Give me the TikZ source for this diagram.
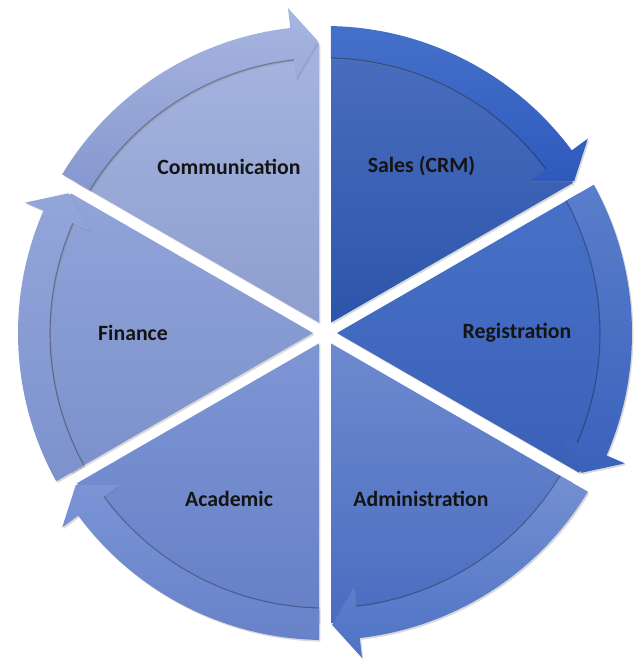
\documentclass[tikz,border=0pt]{standalone}
\usepackage{fontspec}
\setmainfont{Carlito}
\usetikzlibrary{shadows}
\definecolor{salestop}{HTML}{4A6EBF}
\definecolor{salesbot}{HTML}{2C55AB}
\definecolor{salesbandtop}{HTML}{4570CA}
\definecolor{salesbandbot}{HTML}{2F5ABD}
\definecolor{regtop}{HTML}{4771C8}
\definecolor{regbot}{HTML}{3A61B7}
\definecolor{regbandtop}{HTML}{5A7ECB}
\definecolor{regbandbot}{HTML}{3A62BC}
\definecolor{admintop}{HTML}{6D8ACF}
\definecolor{adminbot}{HTML}{4B6CC0}
\definecolor{adminbandtop}{HTML}{7490D2}
\definecolor{adminbandbot}{HTML}{4F72C5}
\definecolor{acadtop}{HTML}{7E96D4}
\definecolor{acadbot}{HTML}{6680C6}
\definecolor{acadbandtop}{HTML}{7A94D6}
\definecolor{acadbandbot}{HTML}{6782C8}
\definecolor{fintop}{HTML}{91A4D9}
\definecolor{finbot}{HTML}{7C91CC}
\definecolor{finbandtop}{HTML}{93A6DA}
\definecolor{finbandbot}{HTML}{7D92CD}
\definecolor{commtop}{HTML}{A5B4DF}
\definecolor{commbot}{HTML}{8D9ECF}
\definecolor{commbandtop}{HTML}{A8B6E1}
\definecolor{commbandbot}{HTML}{8597CE}

\begin{document}
\begin{tikzpicture}[
  x=0.025cm, y=0.025cm,
  wedge/.style 2 args={
    top color=#1,
    bottom color=#2,
    drop shadow={shadow xshift=1pt, shadow yshift=-1.2pt, opacity=0.3}
  },
  band/.style 2 args={
    top color=#1,
    bottom color=#2,
    drop shadow={shadow xshift=1pt, shadow yshift=-1.2pt, opacity=0.3}
  },
  rim/.style={
    draw=black,
    line width=0.8pt,
    opacity=0.28
  },
  label/.style={
    font=\fontsize{15.5}{18}\selectfont\bfseries,
    text=black!92
  }
]
\useasboundingbox (-325,-329) rectangle (316,333);

% -------- Wedges --------
\path[wedge={salestop}{salesbot}] (60:12) -- (88.8:290)
  arc[start angle=88.8, end angle=31.2, radius=290] -- cycle;
\path[wedge={regtop}{regbot}] (0:12) -- (28.8:290)
  arc[start angle=28.8, end angle=-28.8, radius=290] -- cycle;
\path[wedge={admintop}{adminbot}] (-60:12) -- (-31.2:290)
  arc[start angle=-31.2, end angle=-88.8, radius=290] -- cycle;
\path[wedge={acadtop}{acadbot}] (-120:12) -- (-91.2:290)
  arc[start angle=-91.2, end angle=-148.8, radius=290] -- cycle;
\path[wedge={fintop}{finbot}] (180:12) -- (208.8:290)
  arc[start angle=208.8, end angle=151.2, radius=290] -- cycle;
\path[wedge={commtop}{commbot}] (120:12) -- (148.8:290)
  arc[start angle=148.8, end angle=91.2, radius=290] -- cycle;

% -------- Curved arrows --------
\path[band={salesbandtop}{salesbandbot}] (88.75:275) -- (88.88:307)
  arc[start angle=88.88, end angle=36.5, radius=307] -- (36.5:327) -- (31.4:292)
  -- (36.5:256) -- (36.5:275) arc[start angle=36.5, end angle=88.75, radius=275] -- cycle;
\path[band={regbandtop}{regbandbot}] (28.75:275) -- (28.88:307)
  arc[start angle=28.88, end angle=-23.5, radius=307] -- (-23.5:327) -- (-28.6:292)
  -- (-23.5:256) -- (-23.5:275) arc[start angle=-23.5, end angle=28.75, radius=275] -- cycle;
\path[band={adminbandtop}{adminbandbot}] (-31.25:275) -- (-31.12:307)
  arc[start angle=-31.12, end angle=-83.5, radius=307] -- (-83.5:327) -- (-88.6:292)
  -- (-83.5:256) -- (-83.5:275) arc[start angle=-83.5, end angle=-31.25, radius=275] -- cycle;
\path[band={acadbandtop}{acadbandbot}] (-91.25:275) -- (-91.12:307)
  arc[start angle=-91.12, end angle=-143.5, radius=307] -- (-143.5:327) -- (-148.6:292)
  -- (-143.5:256) -- (-143.5:275) arc[start angle=-143.5, end angle=-91.25, radius=275] -- cycle;
\path[band={finbandtop}{finbandbot}] (208.75:275) -- (208.88:307)
  arc[start angle=208.88, end angle=156.5, radius=307] -- (156.5:327) -- (151.4:292)
  -- (156.5:256) -- (156.5:275) arc[start angle=156.5, end angle=208.75, radius=275] -- cycle;
\path[band={commbandtop}{commbandbot}] (148.75:275) -- (148.88:307)
  arc[start angle=148.88, end angle=96.5, radius=307] -- (96.5:327) -- (91.4:292)
  -- (96.5:256) -- (96.5:275) arc[start angle=96.5, end angle=148.75, radius=275] -- cycle;

% -------- Inner rims --------
\draw[rim] (88.75:275) arc[start angle=88.75, end angle=36.5, radius=275];
\draw[rim] (28.75:275) arc[start angle=28.75, end angle=-23.5, radius=275];
\draw[rim] (-31.25:275) arc[start angle=-31.25, end angle=-83.5, radius=275];
\draw[rim] (-91.25:275) arc[start angle=-91.25, end angle=-143.5, radius=275];
\draw[rim] (208.75:275) arc[start angle=208.75, end angle=156.5, radius=275];
\draw[rim] (148.75:275) arc[start angle=148.75, end angle=96.5, radius=275];

% -------- Labels --------
\node[label] (sales) at (60:193)   {Sales (CRM)};
\node[label] (reg)   at (0:192)    {Registration};
\node[label] (admin) at (-60:192)  {Administration};
\node[label] (acad)  at (-120:192) {Academic};
\node[label] (fin)   at (180:192)  {Finance};
\node[label] (comm)  at (120:192)  {Communication};

\end{tikzpicture}
\end{document}
